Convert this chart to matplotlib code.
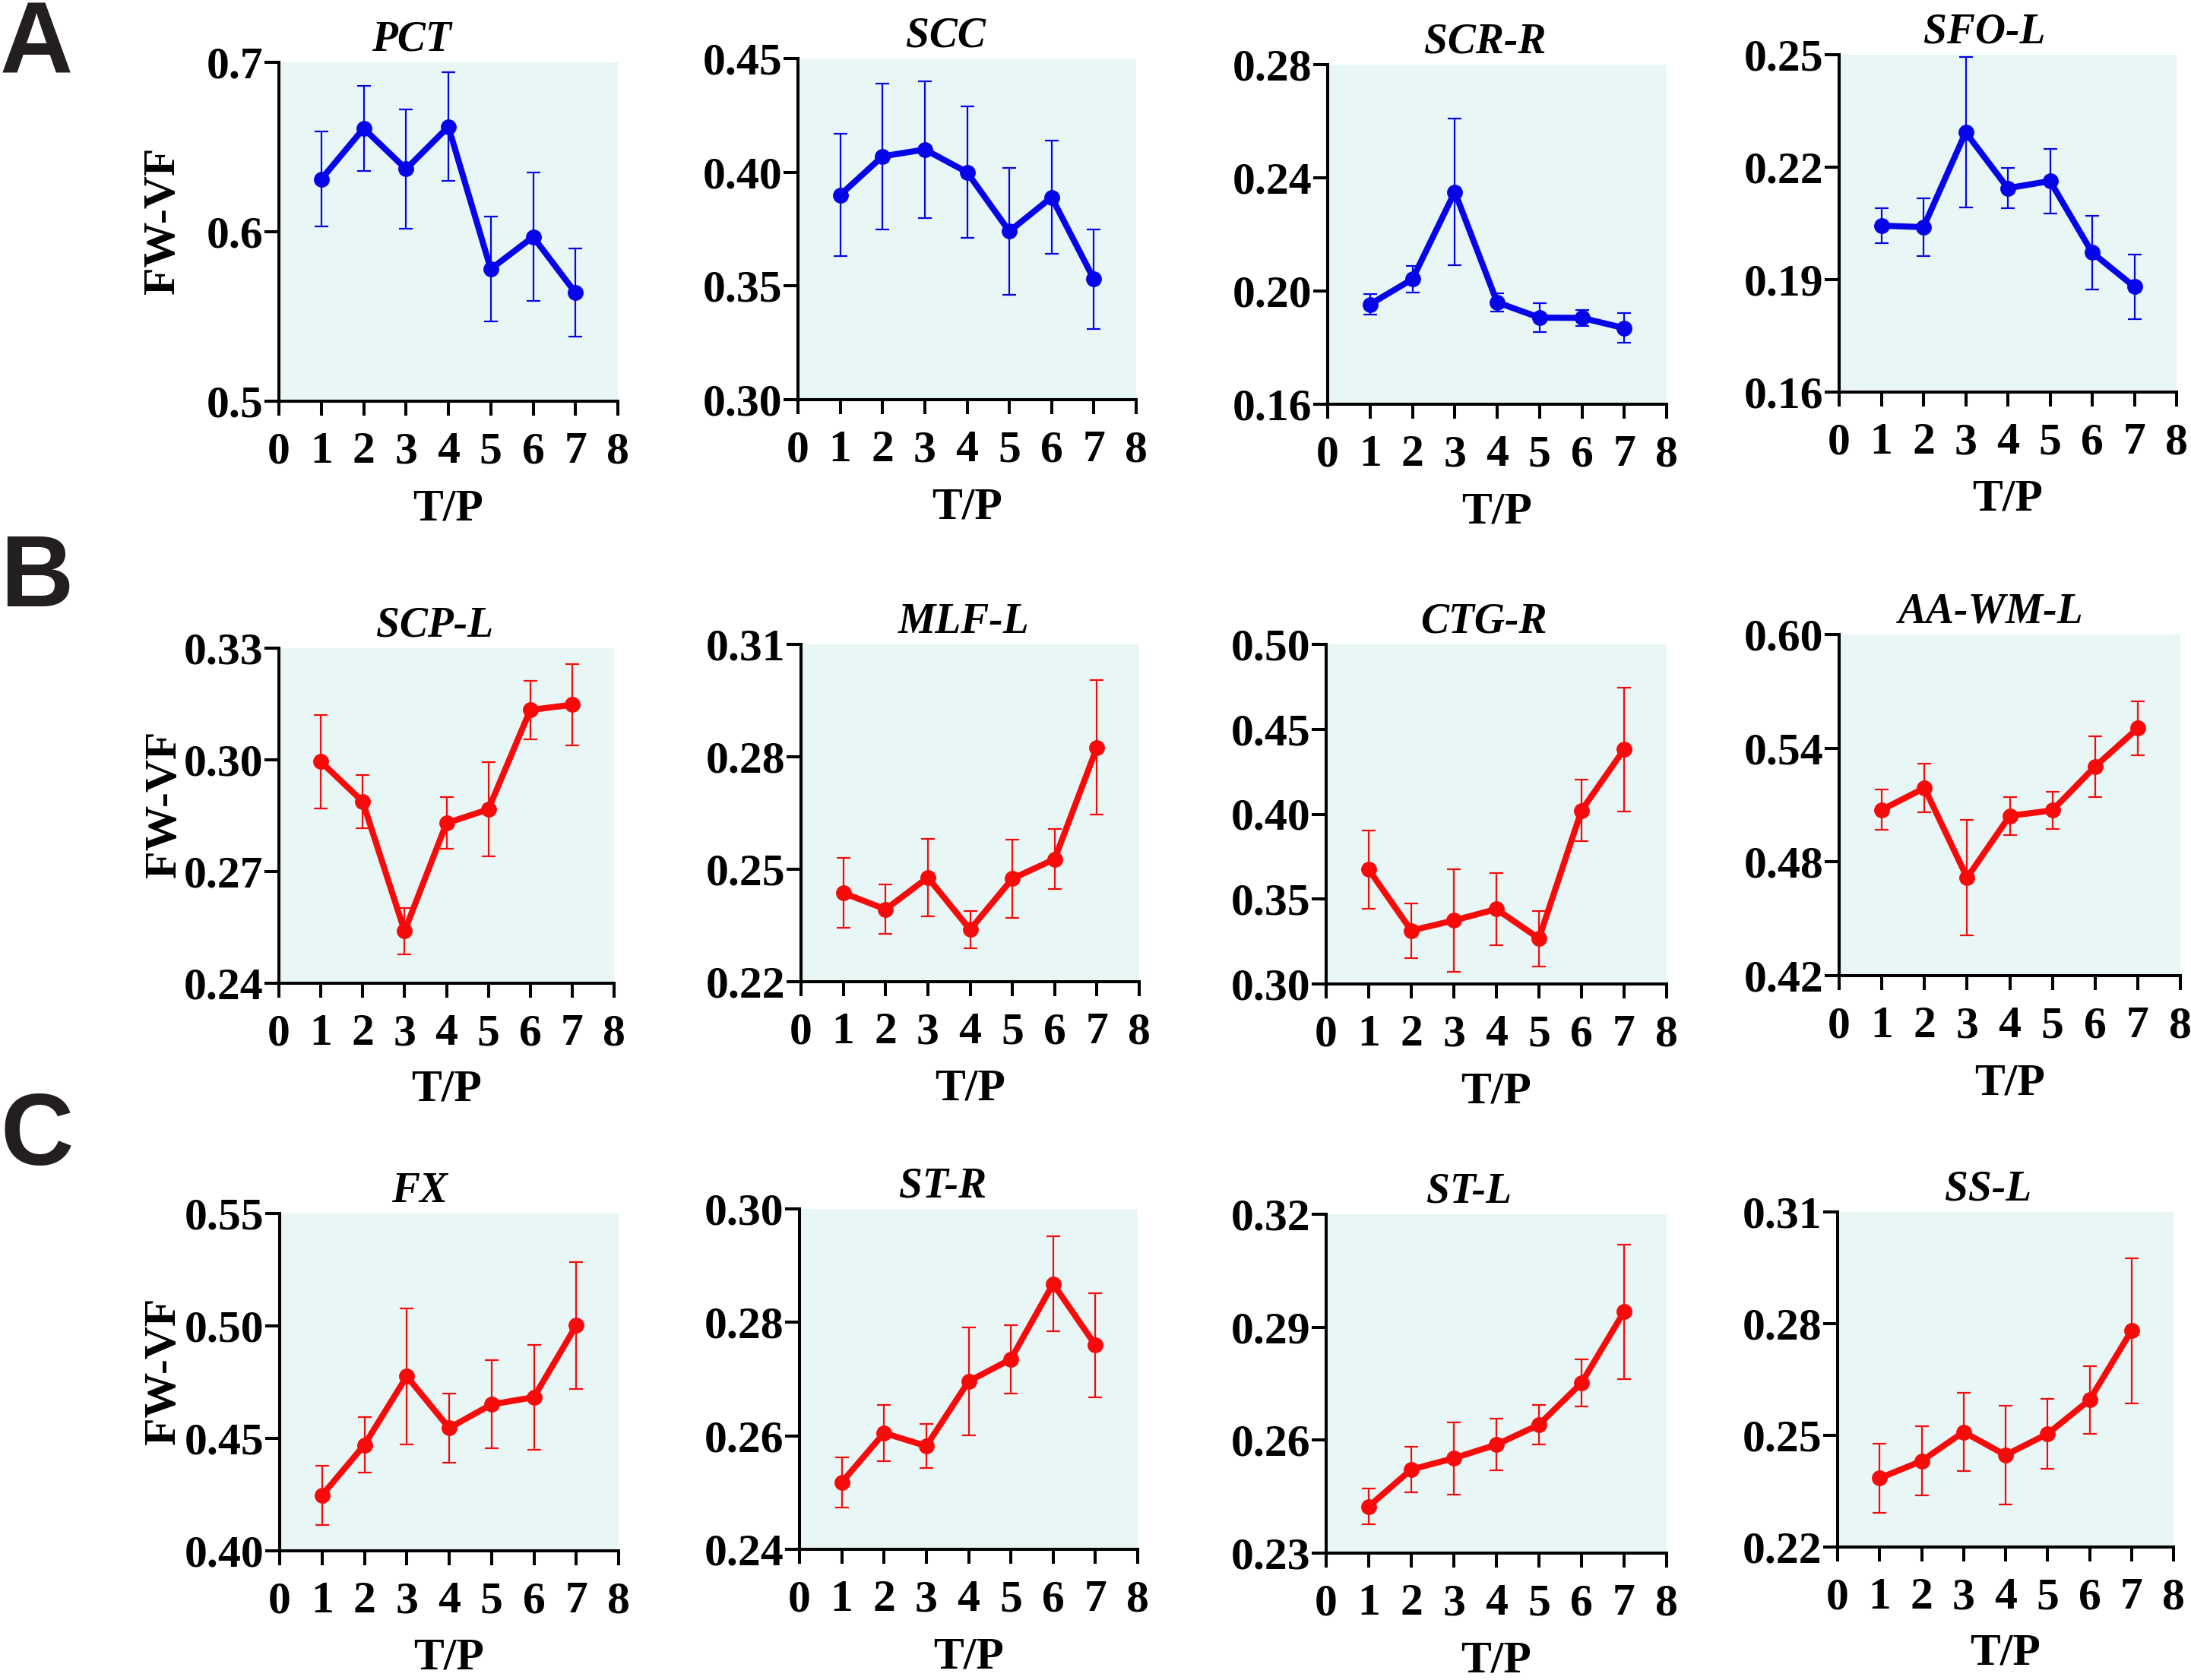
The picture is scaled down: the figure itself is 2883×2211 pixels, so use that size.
import matplotlib.pyplot as plt
import numpy as np

# time points
tp = [1, 2, 3, 4, 5, 6, 7]

# row A (blue)
pct_mean = [0.631, 0.661, 0.637, 0.662, 0.578, 0.597, 0.564]
pct_err = [0.028, 0.025, 0.035, 0.032, 0.031, 0.038, 0.026]
scc_mean = [0.390, 0.407, 0.410, 0.400, 0.374, 0.389, 0.353]
scc_err = [0.027, 0.032, 0.030, 0.029, 0.028, 0.025, 0.022]
scrr_mean = [0.1953, 0.2042, 0.2350, 0.1960, 0.1906, 0.1905, 0.1869]
scrr_err = [0.0036, 0.0047, 0.0260, 0.0033, 0.0050, 0.0029, 0.0052]
sfol_mean = [0.2044, 0.2040, 0.2293, 0.2144, 0.2163, 0.1972, 0.1881]
sfol_err = [0.0046, 0.0077, 0.0200, 0.0054, 0.0086, 0.0098, 0.0086]

# row B (red)
scpl_mean = [0.2995, 0.2888, 0.2540, 0.2830, 0.2867, 0.3134, 0.3148]
scpl_err = [0.0125, 0.0071, 0.0062, 0.0069, 0.0127, 0.0078, 0.0110]
mlfl_mean = [0.2437, 0.2393, 0.2478, 0.2339, 0.2475, 0.2527, 0.2825]
mlfl_err = [0.0093, 0.0066, 0.0104, 0.0050, 0.0104, 0.0080, 0.0179]
ctgr_mean = [0.3674, 0.3315, 0.3374, 0.3441, 0.3268, 0.4022, 0.4381]
ctgr_err = [0.0232, 0.0161, 0.0301, 0.0212, 0.0163, 0.0180, 0.0366]
aawm_mean = [0.5075, 0.5190, 0.4717, 0.5043, 0.5072, 0.5303, 0.5505]
aawm_err = [0.0107, 0.0127, 0.0303, 0.0100, 0.0098, 0.0160, 0.0142]

# row C (red)
fx_mean = [0.4247, 0.4471, 0.4776, 0.4546, 0.4651, 0.4683, 0.5002]
fx_err = [0.0132, 0.0122, 0.0303, 0.0155, 0.0196, 0.0233, 0.0283]
str_mean = [0.2518, 0.2605, 0.2582, 0.2696, 0.2735, 0.2868, 0.2760]
str_err = [0.0044, 0.0050, 0.0039, 0.0095, 0.0060, 0.0084, 0.0092]
stl_mean = [0.2424, 0.2522, 0.2552, 0.2588, 0.2641, 0.2752, 0.2941]
stl_err = [0.0048, 0.0061, 0.0096, 0.0069, 0.0052, 0.0062, 0.0178]
ssl_mean = [0.2385, 0.2431, 0.2509, 0.2447, 0.2504, 0.2595, 0.2781]
ssl_err = [0.0093, 0.0093, 0.0105, 0.0133, 0.0093, 0.0090, 0.0195]

titles = ['PCT', 'SCC', 'SCR-R', 'SFO-L',
          'SCP-L', 'MLF-L', 'CTG-R', 'AA-WM-L',
          'FX', 'ST-R', 'ST-L', 'SS-L']
means = [pct_mean, scc_mean, scrr_mean, sfol_mean,
         scpl_mean, mlfl_mean, ctgr_mean, aawm_mean,
         fx_mean, str_mean, stl_mean, ssl_mean]
errs = [pct_err, scc_err, scrr_err, sfol_err,
        scpl_err, mlfl_err, ctgr_err, aawm_err,
        fx_err, str_err, stl_err, ssl_err]
yticks = [['0.5', '0.6', '0.7'],
          ['0.30', '0.35', '0.40', '0.45'],
          ['0.16', '0.20', '0.24', '0.28'],
          ['0.16', '0.19', '0.22', '0.25'],
          ['0.24', '0.27', '0.30', '0.33'],
          ['0.22', '0.25', '0.28', '0.31'],
          ['0.30', '0.35', '0.40', '0.45', '0.50'],
          ['0.42', '0.48', '0.54', '0.60'],
          ['0.40', '0.45', '0.50', '0.55'],
          ['0.24', '0.26', '0.28', '0.30'],
          ['0.23', '0.26', '0.29', '0.32'],
          ['0.22', '0.25', '0.28', '0.31']]
row_letters = ['A', 'B', 'C']

# axes boxes in pixels: left, top, right, bottom
W, H = 2883, 2211
boxes = [(367, 82, 813, 528), (1050, 77, 1495, 526), (1747, 85, 2193, 532), (2420, 72, 2864, 516),
         (367, 853, 808, 1294), (1054, 848, 1499, 1292), (1745, 848, 2193, 1295), (2420, 835, 2869, 1284),
         (368, 1597, 814, 2041), (1052, 1591, 1497, 2039), (1745, 1598, 2193, 2044), (2418, 1595, 2860, 2036)]
title_x = [0.39, 0.437, 0.464, 0.43, 0.466, 0.48, 0.462, 0.444, 0.412, 0.423, 0.42, 0.448]
letter_y = [96, 798, 1533]

plt.rcParams['font.family'] = ['Liberation Serif', 'DejaVu Serif']
plt.rcParams['font.weight'] = 'bold'

fig = plt.figure(figsize=(W / 100, H / 100), dpi=100)

for i in range(12):
    l, t, r, b = boxes[i]
    ax = fig.add_axes([l / W, 1 - b / H, (r - l) / W, (b - t) / H])
    ax.set_facecolor('#e8f7f6')
    color = '#0505e8' if i < 4 else '#f70a0a'
    ax.errorbar(tp, means[i], yerr=errs[i], color=color, lw=5.8, marker='o', ms=14,
                elinewidth=1.6, capsize=6.5, capthick=1.6, clip_on=False, zorder=3)
    yt = [float(v) for v in yticks[i]]
    ax.set_xlim(0, 8)
    ax.set_ylim(yt[0], yt[-1])
    ax.set_xticks(range(9))
    ax.set_yticks(yt)
    ax.set_yticklabels(yticks[i])
    for s in ['top', 'right']:
        ax.spines[s].set_visible(False)
    for s in ['left', 'bottom']:
        ax.spines[s].set_linewidth(2.9)
    ax.tick_params(length=14, width=2.9, labelsize=43)
    ax.tick_params(axis='x', pad=15)
    ax.tick_params(axis='y', pad=1)
    ax.set_title(titles[i], fontsize=40, fontstyle='italic', fontweight='bold', x=title_x[i], pad=11)
    ax.set_xlabel('T/P', fontsize=43, fontweight='bold')
    ax.xaxis.set_label_coords(0.5, -0.258)
    ax.xaxis.label.set_va('top')
    if i % 4 == 0:
        ax.set_ylabel('FW-VF', fontsize=43, fontweight='bold')
        ax.yaxis.label.set_va('center')
        ax.yaxis.set_label_coords(-0.34, 0.534)

for k in range(3):
    fig.text(0.0, 1 - letter_y[k] / H, row_letters[k], fontsize=96, family=['Liberation Sans', 'DejaVu Sans'],
             fontweight='bold', color='#231f20', va='baseline', ha='left')

fig.savefig('out.png', dpi=100)
